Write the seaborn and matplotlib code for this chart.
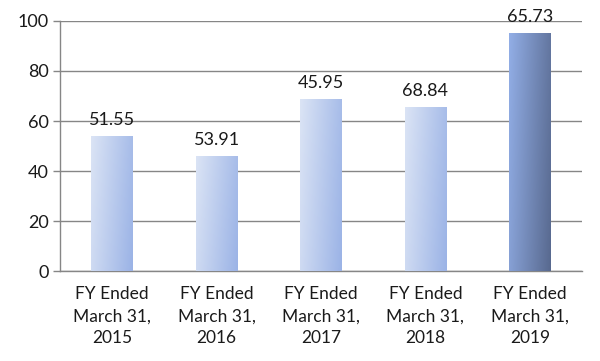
import numpy as np
import pandas as pd
import matplotlib
matplotlib.use("Agg")
import matplotlib.pyplot as plt
from matplotlib.colors import LinearSegmentedColormap
import seaborn as sns

# data
categories = ["FY Ended\nMarch 31,\n2015", "FY Ended\nMarch 31,\n2016", "FY Ended\nMarch 31,\n2017",
              "FY Ended\nMarch 31,\n2018", "FY Ended\nMarch 31,\n2019"]
bar_values = [54.0, 46.0, 68.8, 65.6, 95.2]
bar_labels = ["51.55", "53.91", "45.95", "68.84", "65.73"]
y_ticks = [0, 20, 40, 60, 80, 100]

df = pd.DataFrame({"period": categories, "value": bar_values})

sns.set_style("white")
plt.rcParams['font.family'] = ['Lato', 'DejaVu Sans']

fig = plt.figure(figsize=(6, 3.61), dpi=100)
ax = fig.add_axes([0.1, 0.249, 0.87, 0.693])

sns.barplot(data=df, x="period", y="value", width=0.4, color="#b0c4ea", ax=ax, zorder=3)

light = LinearSegmentedColormap.from_list("light", ["#dbe4f5", "#9bb3e6"])
dark = LinearSegmentedColormap.from_list("dark", ["#92aee6", "#58698f"])

# gradient fill: mostly left->right, a little top->bottom
gx, gy = np.meshgrid(np.linspace(0, 1, 60), np.linspace(0, 1, 120))
grad = 0.8 * gx + 0.2 * (1 - gy)
for i, patch in enumerate(ax.patches):
    x0, y0 = patch.get_x(), patch.get_y()
    w, h = patch.get_width(), patch.get_height()
    cmap = dark if i == len(ax.patches) - 1 else light
    patch.set_facecolor("none")
    patch.set_edgecolor("none")
    im = ax.imshow(grad, cmap=cmap, extent=[x0, x0 + w, y0 + h, y0], aspect="auto",
                   origin="upper", zorder=3, interpolation="bilinear")
    im.set_clip_path(patch)
    ax.annotate(bar_labels[i], (x0 + w / 2, y0 + h), xytext=(0, 6), textcoords="offset points",
                ha="center", va="bottom", fontsize=13, color="#1a1a1a", annotation_clip=False)

ax.set_xlim(-0.5, len(categories) - 0.5)
ax.set_ylim(0, 100)
ax.set_yticks(y_ticks)
ax.grid(axis="y", color="#868686", linewidth=1, zorder=0)
ax.set_axisbelow(True)

ax.set_xlabel("")
ax.set_ylabel("")
ax.set_xticks(np.arange(len(categories)))
ax.set_xticklabels(categories, fontsize=12.5, color="#1a1a1a", linespacing=1.45)
ax.set_xticks(np.arange(-0.5, len(categories)), minor=True)
ax.tick_params(axis="x", which="major", length=0, pad=11)
ax.tick_params(axis="x", which="minor", length=5, color="#868686", width=1, direction="out")
ax.tick_params(axis="y", length=5, color="#868686", width=1, labelsize=13, labelcolor="#1a1a1a", pad=3)
ax.tick_params(axis="both", bottom=True, left=True)
ax.tick_params(axis="x", which="major", bottom=False)

for s in ["top", "right"]:
    ax.spines[s].set_visible(False)
for s in ["left", "bottom"]:
    ax.spines[s].set_color("#868686")
    ax.spines[s].set_linewidth(1)

fig.savefig("out.png", dpi=100)
